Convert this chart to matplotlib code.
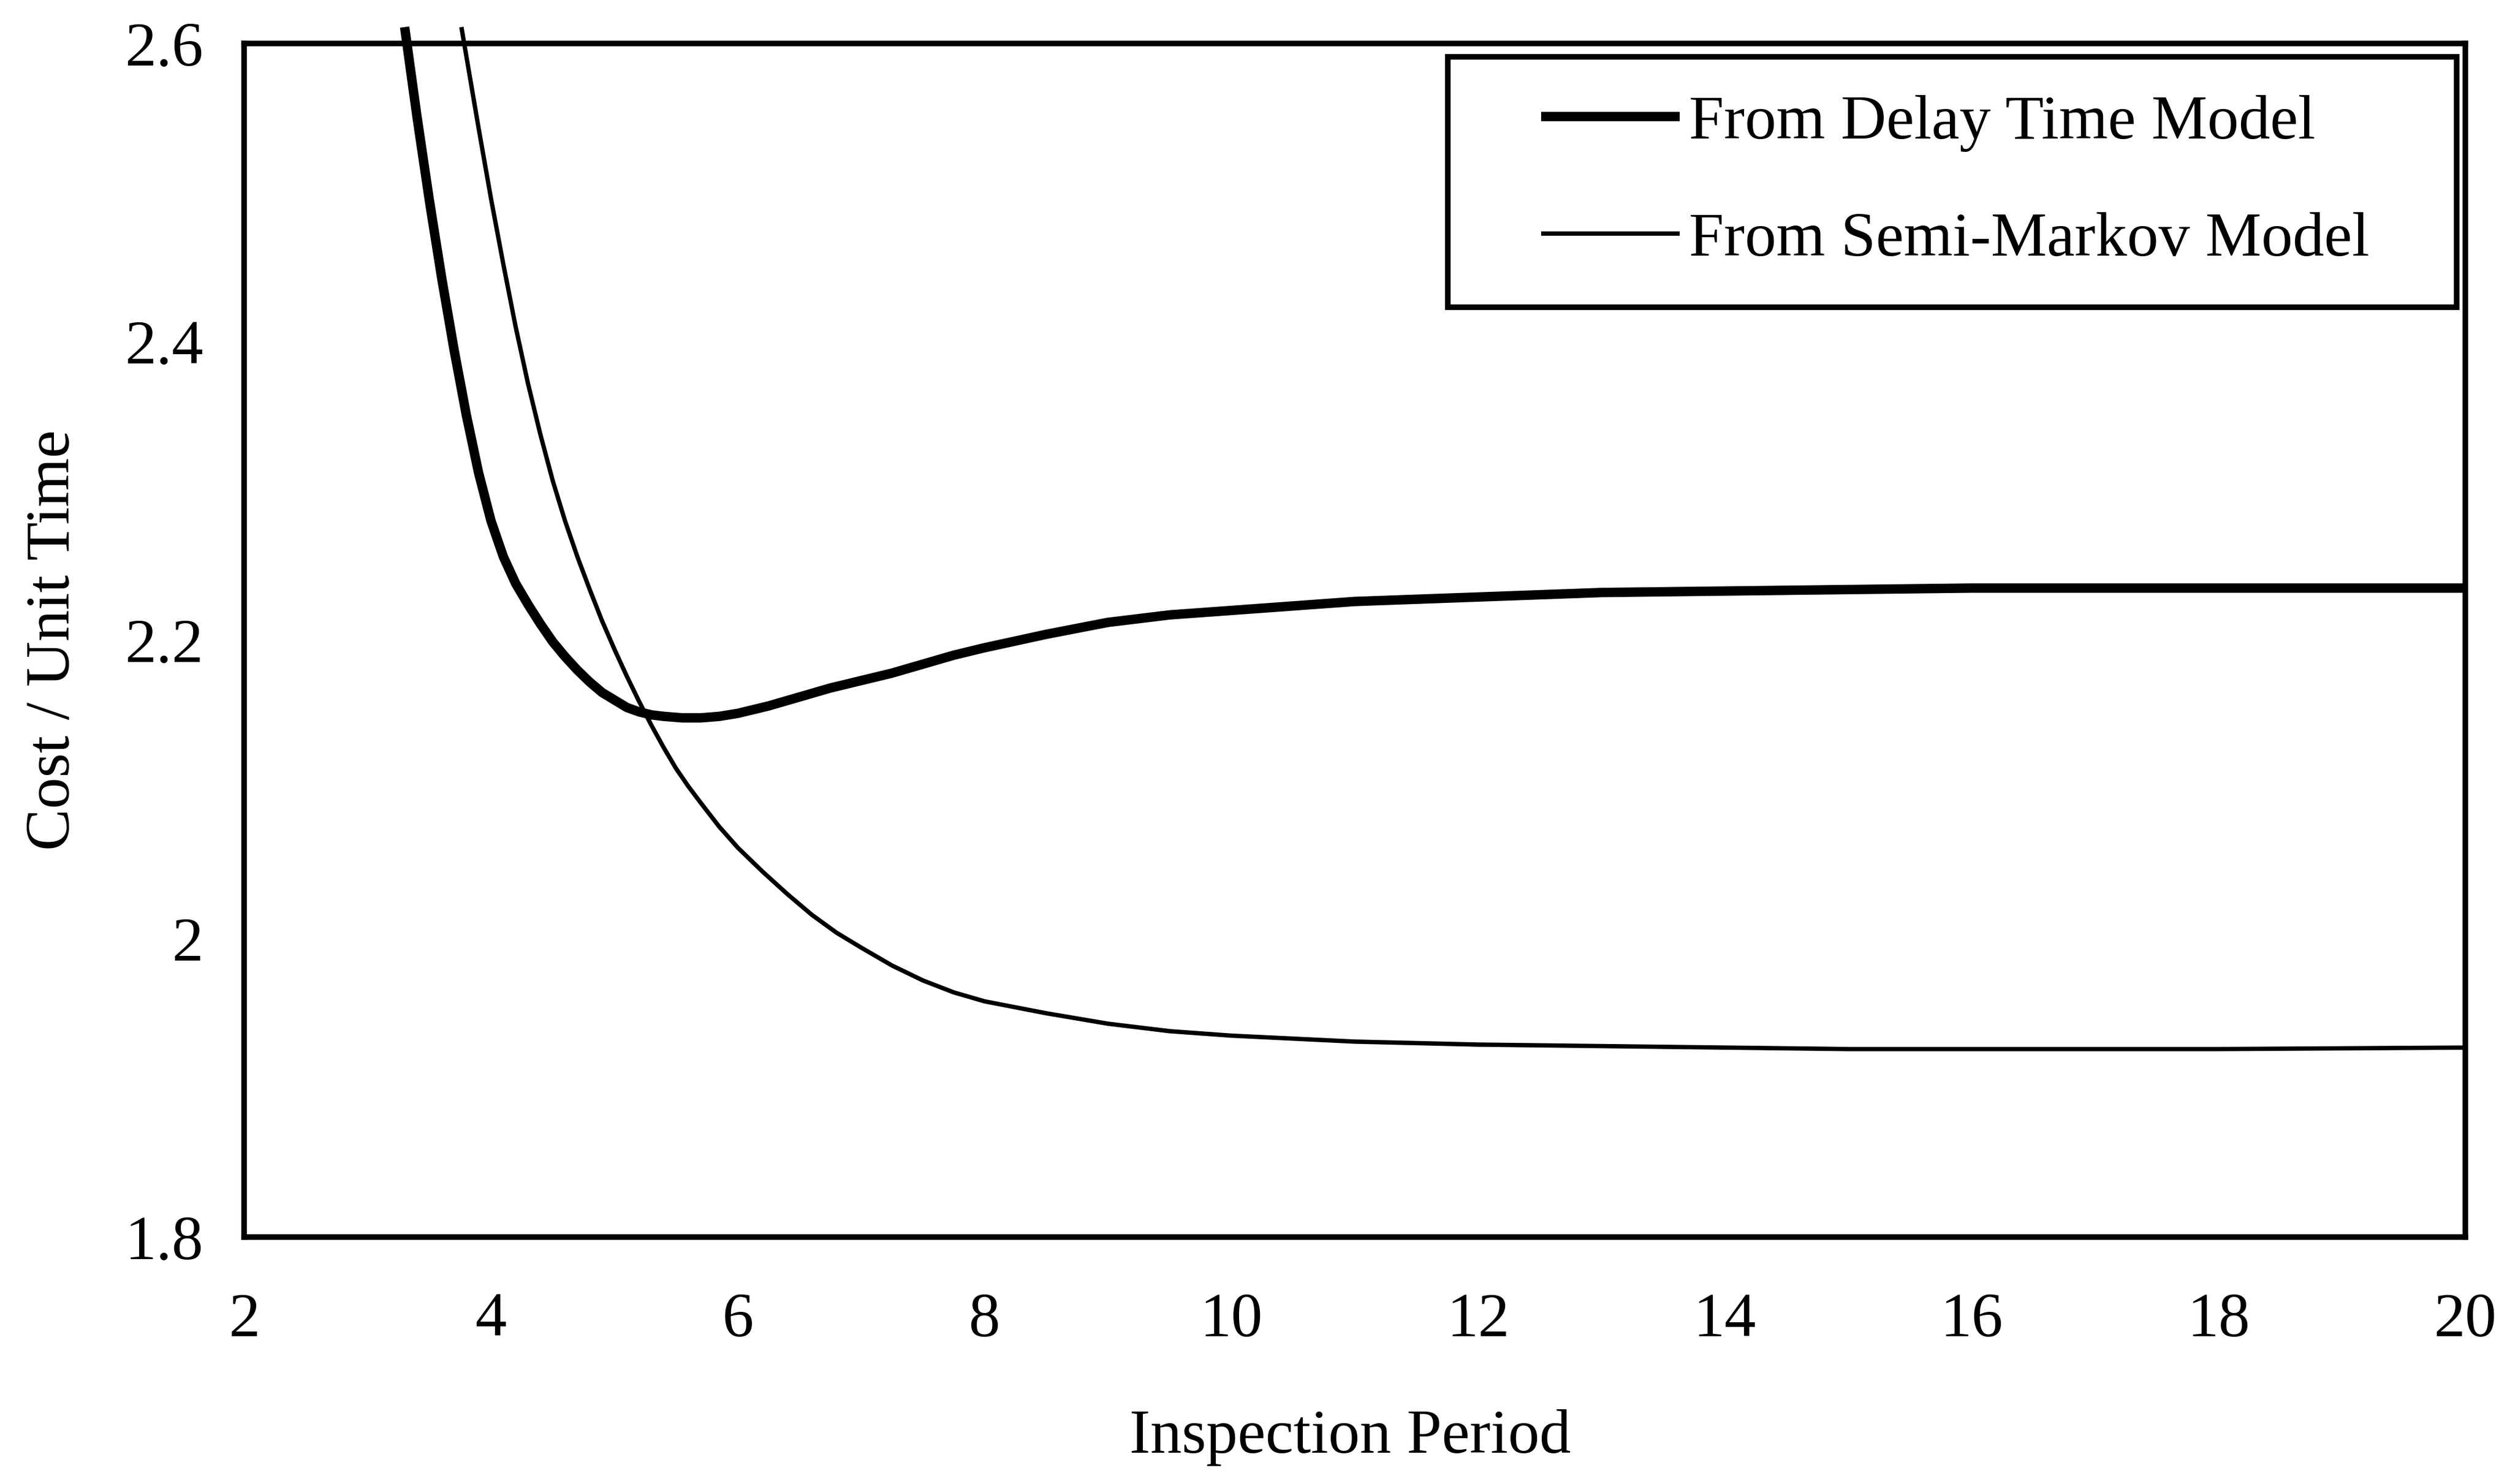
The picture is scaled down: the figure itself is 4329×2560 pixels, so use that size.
import matplotlib.pyplot as plt
import matplotlib.patches as patches
from matplotlib.ticker import FuncFormatter

plt.rcParams['font.family'] = ['Liberation Serif', 'DejaVu Serif']

# Inspection period vs cost per unit time
delay_x = [3.30, 3.40, 3.50, 3.60, 3.70, 3.80, 3.90, 4.00, 4.10, 4.20, 4.30, 4.40,
           4.50, 4.60, 4.70, 4.80, 4.90, 5.00, 5.10, 5.20, 5.30, 5.40, 5.55, 5.70,
           5.85, 6.00, 6.25, 6.50, 6.75, 7.00, 7.25, 7.50, 7.75, 8.00, 8.50, 9.00,
           9.50, 10.0, 10.5, 11.0, 12.0, 13.0, 14.0, 15.0, 16.0, 18.0, 20.0]
delay_y = [2.611, 2.551, 2.495, 2.443, 2.395, 2.351, 2.312, 2.280, 2.256, 2.238, 2.224, 2.211,
           2.199, 2.189, 2.180, 2.172, 2.165, 2.160, 2.155, 2.152, 2.150, 2.149, 2.148, 2.148,
           2.149, 2.151, 2.156, 2.162, 2.168, 2.173, 2.178, 2.184, 2.190, 2.195, 2.204, 2.212,
           2.217, 2.220, 2.223, 2.226, 2.229, 2.232, 2.233, 2.234, 2.235, 2.235, 2.235]

semi_x = [3.76, 3.90, 4.00, 4.10, 4.20, 4.30, 4.40, 4.50, 4.60, 4.70, 4.80, 4.90,
          5.00, 5.10, 5.20, 5.30, 5.40, 5.50, 5.60, 5.70, 5.85, 6.00, 6.20, 6.40,
          6.60, 6.80, 7.00, 7.25, 7.50, 7.75, 8.00, 8.50, 9.00, 9.50, 10.0, 11.0,
          12.0, 13.0, 14.0, 15.0, 16.0, 18.0, 20.0]
semi_y = [2.611, 2.543, 2.496, 2.452, 2.410, 2.372, 2.338, 2.307, 2.280, 2.256, 2.234, 2.213,
          2.194, 2.176, 2.159, 2.143, 2.128, 2.114, 2.102, 2.091, 2.075, 2.061, 2.045, 2.030,
          2.016, 2.004, 1.994, 1.982, 1.972, 1.964, 1.958, 1.950, 1.943, 1.938, 1.935, 1.931,
          1.929, 1.928, 1.927, 1.926, 1.926, 1.926, 1.927]

x_ticks = [2, 4, 6, 8, 10, 12, 14, 16, 18, 20]
y_ticks = [1.8, 2.0, 2.2, 2.4, 2.6]

fig = plt.figure(figsize=(4329 / 300, 2560 / 300), dpi=300)
ax = fig.add_axes([0.0973, 0.1664, 0.8849, 0.8043])

ax.plot(delay_x, delay_y, color='black', lw=3.9, clip_on=False,
        solid_capstyle='butt', solid_joinstyle='round', label='From Delay Time Model')
ax.plot(semi_x, semi_y, color='black', lw=1.8, clip_on=False,
        solid_capstyle='butt', solid_joinstyle='round', label='From Semi-Markov Model')

ax.set_xlim(2, 20)
ax.set_ylim(1.8, 2.6)
ax.set_xticks(x_ticks)
ax.set_yticks(y_ticks)
ax.yaxis.set_major_formatter(FuncFormatter(lambda v, p: '%g' % v))
ax.tick_params(axis='both', length=0, labelsize=26)
ax.tick_params(axis='x', pad=23)
ax.tick_params(axis='y', pad=17)

for s in ax.spines.values():
    s.set_linewidth(2.3)
    s.set_color('black')

ax.set_xlabel('Inspection Period', fontsize=26)
ax.set_ylabel('Cost / Unit Time', fontsize=26)
ax.xaxis.set_label_coords(0.4978, -0.144)
ax.yaxis.set_label_coords(-0.073, 0.5)

# legend box drawn by hand, entries by the legend itself
box = patches.Rectangle((0.542, 0.779), 0.454, 0.210, transform=ax.transAxes,
                        facecolor='white', edgecolor='black', lw=2.3, zorder=5)
ax.add_patch(box)
leg = ax.legend(loc='center left', bbox_to_anchor=(0.584, 0.884), frameon=False,
                fontsize=26, handlelength=2.2, handletextpad=0.15,
                labelspacing=0.95, borderpad=0, borderaxespad=0)
leg.set_zorder(6)

fig.savefig('out.png', dpi=300)
